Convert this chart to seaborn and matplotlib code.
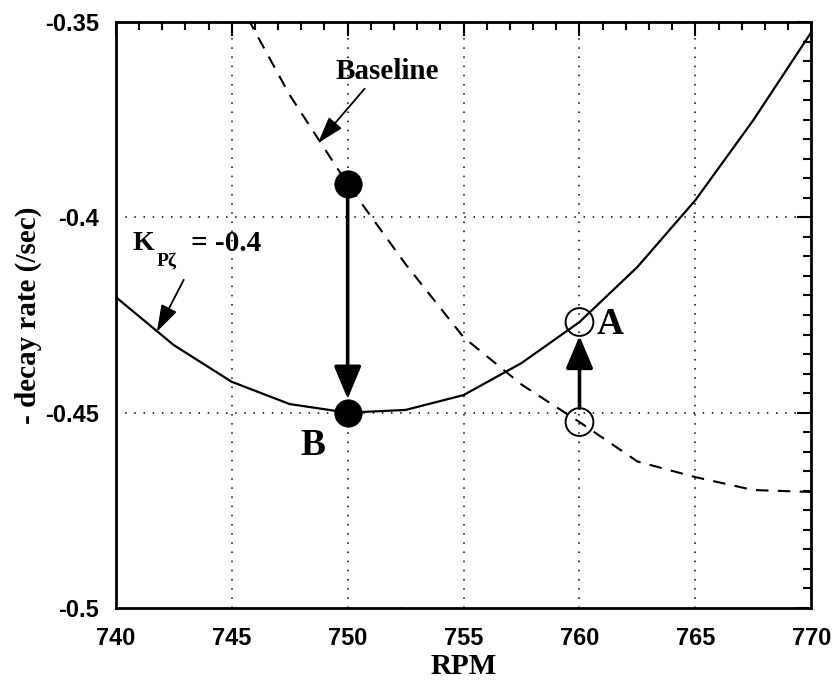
import numpy as np
import pandas as pd
import matplotlib
matplotlib.use("Agg")
import matplotlib.pyplot as plt
from matplotlib.ticker import MultipleLocator, FixedLocator, FixedFormatter
import seaborn as sns

# Decay rate vs rotor speed
rpm_gain = [740, 742.5, 745, 747.5, 750, 752.5, 755, 757.5, 760, 762.5, 765, 767.5, 770]
decay_gain = [-0.4204, -0.4327, -0.4421, -0.4478, -0.4500, -0.4493, -0.4455,
              -0.4373, -0.4268, -0.4127, -0.3956, -0.3751, -0.3526]

rpm_base = [745, 747.5, 750, 752.5, 755, 757.5, 760, 762.5, 765, 767.5, 770]
decay_base = [-0.3415, -0.3687, -0.3915, -0.4120, -0.4307, -0.4428, -0.4524,
              -0.4625, -0.4665, -0.4698, -0.4703]

# Operating points: filled = 750 RPM (baseline -> with feedback), open = 760 RPM
filled_rpm = [750, 750]
filled_decay = [-0.3915, -0.4500]
open_rpm = [760, 760]
open_decay = [-0.4524, -0.4268]

x_ticks = [740, 745, 750, 755, 760, 765, 770]
x_labels = ["740", "745", "750", "755", "760", "765", "770"]
y_ticks = [-0.5, -0.45, -0.4, -0.35]
y_labels = ["-0.5", "-0.45", "-0.4", "-0.35"]

sns.set_style("white")
plt.rcParams["font.family"] = ["Liberation Sans", "DejaVu Sans"]
plt.rcParams.update({
    "text.color": "black",
    "axes.labelcolor": "black",
    "xtick.color": "black",
    "ytick.color": "black",
})

fig = plt.figure(figsize=(8.33, 6.85), dpi=100)
ax = fig.add_axes([0.139, 0.1124, 0.835, 0.8555])

gain_df = pd.DataFrame({"rpm": rpm_gain, "decay": decay_gain})
base_df = pd.DataFrame({"rpm": rpm_base, "decay": decay_base})

sns.lineplot(data=gain_df, x="rpm", y="decay", ax=ax, color="black", lw=1.6,
             sort=False, zorder=3)
sns.lineplot(data=base_df, x="rpm", y="decay", ax=ax, color="black", lw=1.5,
             sort=False, linestyle=(0, (6, 4.5)), zorder=3)

sns.scatterplot(x=filled_rpm, y=filled_decay, ax=ax, s=390, color="black",
                edgecolor="black", linewidth=0.5, zorder=5)
sns.scatterplot(x=open_rpm, y=open_decay, ax=ax, s=400, facecolor="none",
                edgecolor="black", linewidth=1.4, zorder=5)

ax.set_xlim(740, 770)
ax.set_ylim(-0.5, -0.35)

# Shift arrows between operating points
big_arrow = dict(arrowstyle="-|>,head_width=0.42,head_length=1.0", color="black",
                 lw=2.6, mutation_scale=20, shrinkA=10, shrinkB=10)
ax.annotate("", xy=(filled_rpm[1], filled_decay[1]),
            xytext=(filled_rpm[0], filled_decay[0]), arrowprops=big_arrow, zorder=6)
ax.annotate("", xy=(open_rpm[1], open_decay[1]),
            xytext=(open_rpm[0], open_decay[0]), arrowprops=big_arrow, zorder=6)

serif = ["Liberation Serif", "DejaVu Serif"]
thin_arrow = dict(arrowstyle="-|>,head_width=0.35,head_length=1.1", color="black",
                  lw=1.3, mutation_scale=15, shrinkA=0, shrinkB=0)

# Curve labels with leader arrows
ax.annotate("Baseline", xy=(748.72, -0.381), xytext=(751.7, -0.3628),
            fontsize=21, fontweight="bold", family=serif, ha="center", va="center",
            arrowprops=dict(thin_arrow, relpos=(0.31, 0.0)))

k_x, k_y = 740.73, -0.4067
ax.text(k_x, k_y, "K", fontsize=20, fontweight="bold", family=serif,
        ha="left", va="center")
ax.annotate("Pζ", xy=(k_x, k_y), xytext=(17.5, -13), textcoords="offset points",
            fontsize=14, fontweight="bold", family=serif, ha="left", va="center")
ax.annotate("= -0.4", xy=(k_x, k_y), xytext=(42, 0), textcoords="offset points",
            fontsize=21, fontweight="bold", family=serif, ha="left", va="center")
ax.annotate("", xy=(741.77, -0.4293), xytext=(742.93, -0.4160),
            arrowprops=thin_arrow)

ax.text(760.75, -0.4275, "A", fontsize=27, fontweight="bold", family=serif,
        ha="left", va="center")
ax.text(748.5, -0.4585, "B", fontsize=27, fontweight="bold", family=serif,
        ha="center", va="center")

ax.xaxis.set_major_locator(FixedLocator(x_ticks))
ax.xaxis.set_major_formatter(FixedFormatter(x_labels))
ax.yaxis.set_major_locator(FixedLocator(y_ticks))
ax.yaxis.set_major_formatter(FixedFormatter(y_labels))
ax.xaxis.set_minor_locator(MultipleLocator(1))
ax.yaxis.set_minor_locator(MultipleLocator(0.005))

ax.tick_params(which="both", direction="in", top=True, right=True, color="black",
               width=1.5)
ax.tick_params(which="major", length=10, labelsize=17, pad=12)
ax.tick_params(axis="x", which="major", pad=14)
ax.tick_params(which="minor", length=6)
for lab in ax.get_xticklabels() + ax.get_yticklabels():
    lab.set_fontweight("bold")

ax.grid(True, which="major", color="black", linestyle=(0, (1, 5)), lw=1.1)
for sp in ax.spines.values():
    sp.set_color("black")
    sp.set_linewidth(2.0)

ax.set_xlabel("RPM", fontsize=21, fontweight="bold", family=serif, labelpad=2)
ax.set_ylabel("- decay rate (/sec)", fontsize=21, fontweight="bold", family=serif,
              labelpad=2)

fig.savefig("out.png", dpi=100)
